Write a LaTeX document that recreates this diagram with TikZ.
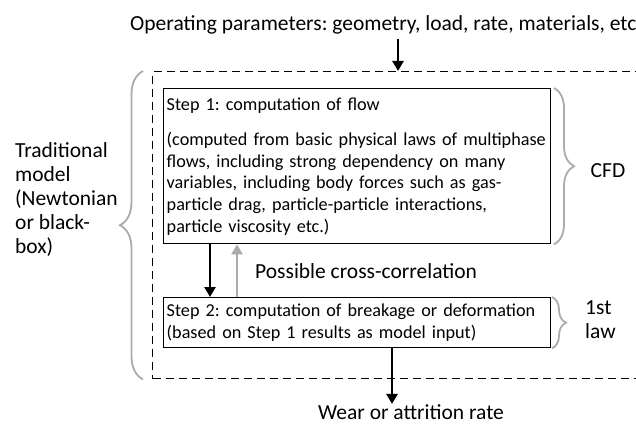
\documentclass[tikz,border=0pt]{standalone}
\usepackage{fontspec}
\setmainfont{Carlito}
\frenchspacing
\usetikzlibrary{arrows.meta,decorations.pathreplacing}

\begin{document}
\begin{tikzpicture}[x=1pt,y=-1pt,
    big/.style={font=\fontsize{21.5}{24}\selectfont, inner sep=0pt},
    stepbox/.style={draw, line width=1.4pt, anchor=north west, align=left,
        inner xsep=3pt, inner ysep=4pt, font=\fontsize{18.2}{21.6}\selectfont},
    bigarrow/.style={line width=2.6pt, -{Triangle[length=10pt,width=11pt]}},
    greybrace/.style={draw=black!33, line width=1.8pt,
        decorate, decoration={brace, amplitude=#1}}
    ]
    \clip (0,0) rectangle (636,425);
    \node[big, anchor=base west] (params) at (130,31)
        {Operating parameters: geometry, load, rate, materials, etc};
    \node[draw, dashed, dash pattern=on 8pt off 5pt, line width=1.4pt,
        anchor=north west, minimum width=540pt, minimum height=307pt,
        inner sep=0pt] (model) at (152,71) {};
    \node[stepbox, minimum width=387pt, minimum height=155pt,
        text width=381pt] (step1) at (163,88)
        {Step 1: computation of flow\\[14pt]
         (computed from basic physical laws of multiphase\\
         flows, including strong dependency on many\\
         variables, including body forces such as gas-\\
         particle drag, particle-particle interactions,\\
         particle viscosity etc.)};
    \node[stepbox, minimum width=387pt, minimum height=50pt,
        text width=381pt] (step2) at (163,297)
        {Step 2: computation of breakage or deformation\\
         (based on Step 1 results as model input)};
    \node[big, anchor=west, align=left] (trad) at (15,200)
        {Traditional\\model\\(Newtonian\\or black-\\box)};
    \node[big] (cfd) at (608,171) {CFD};
    \node[big, anchor=west, align=left] (law) at (585,320) {1st\\law};
    \node[big, anchor=west] (cross) at (255,271) {Possible cross-correlation};
    \node[big, anchor=base] (wear) at (411,419) {Wear or attrition rate};
    \draw[bigarrow] (398,0 |- params.south) ++(0,4) -- (398,0 |- model.north);
    \draw[bigarrow] (210,0 |- step1.south) -- (210,0 |- step2.north);
    \draw[bigarrow, black!33] (237,0 |- step2.north) -- (237,0 |- step1.south);
    \draw[bigarrow] (392,0 |- step2.south) -- (392,0 |- wear.north);
    \draw[greybrace=23pt] (143,0 |- model.south) -- (143,0 |- model.north);
    \draw[greybrace=20pt] (554,0 |- step1.north) -- (554,0 |- step1.south);
    \draw[greybrace=14pt] (552,0 |- step2.north) -- (552,0 |- step2.south);
\end{tikzpicture}
\end{document}
